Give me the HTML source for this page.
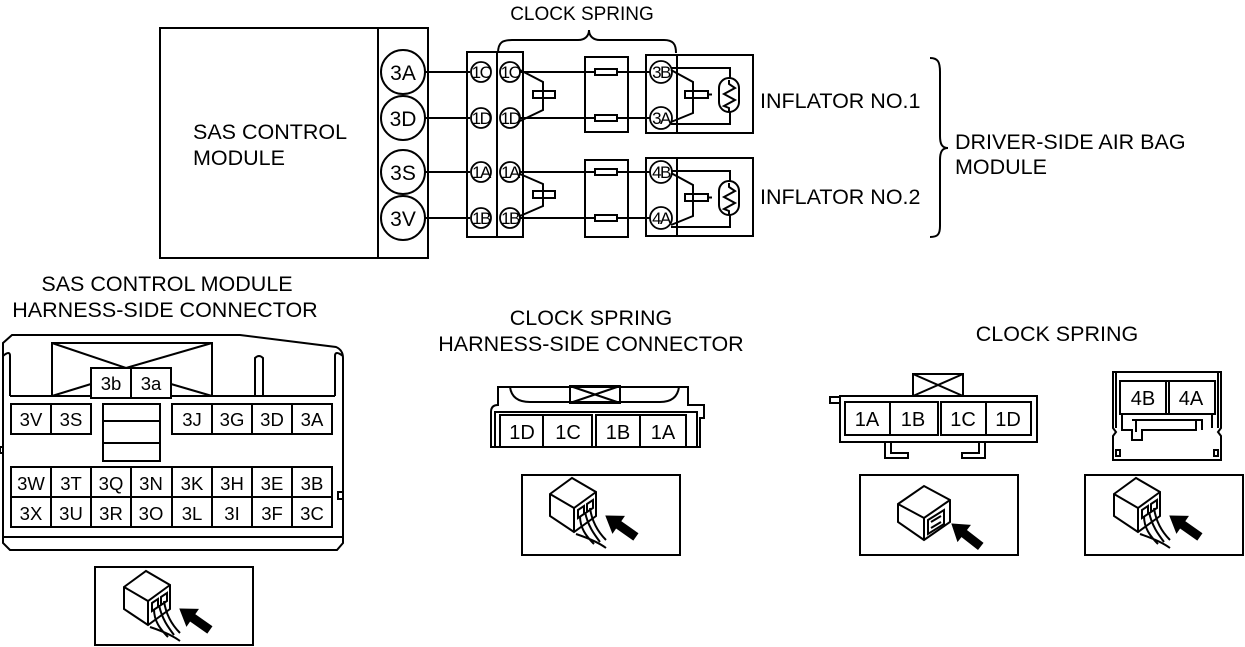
<!DOCTYPE html>
<html><head><meta charset="utf-8"><style>
html,body{margin:0;padding:0;background:#fff;}
svg{display:block;}
text{font-family:"Liberation Sans",Arial,sans-serif;fill:#000;}
</style></head><body>
<svg width="1245" height="647" viewBox="0 0 1245 647" xmlns="http://www.w3.org/2000/svg">
<defs>
<g id="arrow"><path d="M0,0 L15,-10 L15,-4 L36,-4 L36,4 L15,4 L15,10 Z" fill="#000" stroke="#000" stroke-width="1"/></g>
<g id="icon" fill="none" stroke="#000" stroke-width="2">
  <path d="M-38,-18 L-16,-34 L8,-20 L8,4 L-14,20 L-38,4 Z"/>
  <path d="M-38,-18 L-14,-4 L8,-20 M-14,-4 L-14,20" />
  <path d="M-10,-2 L-4,-6 L-4,2 L-10,6 Z M-1,-8 L5,-12 L5,-4 L-1,0 Z"/>
  <path d="M-8,4 C-8,16 -2,24 6,32 M-3,0 C0,14 6,22 12,30 M2,-4 C4,10 10,20 18,28 M-12,22 C0,26 10,30 18,36"/>
  <use href="#arrow" transform="translate(18,4) rotate(35)"/>
</g>
</defs>
<g fill="none" stroke="#000" stroke-width="2">
<rect x="160" y="28" width="218" height="230"/>
<rect x="378" y="28" width="50" height="230"/>
<circle cx="403" cy="72" r="22"/><circle cx="403" cy="118" r="22"/><circle cx="403" cy="172" r="22"/><circle cx="403" cy="218" r="22"/>
<path d="M425,72H470 M425,118H470 M425,172H470 M425,218H470"/>
<rect x="467" y="52" width="30" height="185"/><rect x="497" y="52" width="26" height="185"/>
<g stroke-width="1.8">
<circle cx="481" cy="72" r="10" fill="#fff"/><circle cx="481" cy="118" r="10" fill="#fff"/><circle cx="481" cy="172" r="10" fill="#fff"/><circle cx="481" cy="218" r="10" fill="#fff"/>
<circle cx="510" cy="72" r="10" fill="#fff"/><circle cx="510" cy="118" r="10" fill="#fff"/><circle cx="510" cy="172" r="10" fill="#fff"/><circle cx="510" cy="218" r="10" fill="#fff"/>
</g>
<path d="M520,70 L543,82 L543,110 L520,121 M533,91 H555 V98 H533 Z"/>
<path d="M520,174 L543,184 L543,206 L520,216 M533,191 H555 V198 H533 Z"/>
<path d="M520,72H650 M520,118H650 M520,172H650 M520,218H650"/>
<rect x="585" y="57" width="43" height="75"/><rect x="585" y="160" width="43" height="77"/>
<g fill="#fff"><rect x="595" y="69" width="22" height="6"/><rect x="595" y="115" width="22" height="6"/><rect x="595" y="169" width="22" height="6"/><rect x="595" y="215" width="22" height="6"/></g>
<rect x="646" y="55" width="31" height="78"/><rect x="677" y="55" width="76" height="78"/>
<rect x="646" y="158" width="31" height="78"/><rect x="677" y="158" width="76" height="78"/>
<g stroke-width="1.8">
<circle cx="661" cy="72" r="11" fill="#fff"/><circle cx="661" cy="118" r="11" fill="#fff"/>
<circle cx="661" cy="172" r="11" fill="#fff"/><circle cx="661" cy="218" r="11" fill="#fff"/>
</g>
<g id="inf">
<path d="M671,70 L693,82 L693,113 L671,122 M685,91 H708 V98 H685 Z M708,94.5 H712"/>
<path d="M671,68 H730 V78 M671,124 H730 V112"/>
<rect x="719" y="78" width="20" height="34" rx="10"/>
<path d="M729,80 L729,84 L735,88 L724,94 L735,100 L724,106 L729,108 V112"/>
</g>
<use href="#inf" transform="translate(0,103)"/>
<path d="M498,53 C498,42 503,40 512,40 H578 C585,40 589,36 589,30 C589,36 593,40 600,40 H664 C673,40 676,44 676,53"/>
<path d="M930,58 C938,58 940,62 940,72 V136 C940,144 942,148 948,148 C942,148 940,152 940,160 V226 C940,234 938,237 930,237"/>
</g>
<g font-size="19">
<text x="582" y="20" text-anchor="middle">CLOCK SPRING</text>
</g>
<g font-size="21.5">
<text x="193" y="139">SAS CONTROL</text>
<text x="193" y="165">MODULE</text>
<text x="760" y="108">INFLATOR NO.1</text>
<text x="760" y="204">INFLATOR NO.2</text>
<text x="955" y="149">DRIVER-SIDE AIR BAG</text>
<text x="955" y="174">MODULE</text>
</g>
<g font-size="21">
<text x="403" y="80" text-anchor="middle">3A</text><text x="403" y="126" text-anchor="middle">3D</text>
<text x="403" y="180" text-anchor="middle">3S</text><text x="403" y="226" text-anchor="middle">3V</text>
</g>
<g font-size="17" text-anchor="middle" letter-spacing="-1.5">
<text x="481" y="78">1C</text><text x="481" y="124">1D</text><text x="481" y="178">1A</text><text x="481" y="224">1B</text>
<text x="510" y="78">1C</text><text x="510" y="124">1D</text><text x="510" y="178">1A</text><text x="510" y="224">1B</text>
<text x="661" y="78">3B</text><text x="661" y="124">3A</text><text x="661" y="178">4B</text><text x="661" y="224">4A</text>
</g>

<g font-size="21.5" text-anchor="middle">
<text x="167" y="291">SAS CONTROL MODULE</text>
<text x="165" y="317">HARNESS-SIDE CONNECTOR</text>
<text x="591" y="325">CLOCK SPRING</text>
<text x="591" y="351">HARNESS-SIDE CONNECTOR</text>
<text x="1057" y="341">CLOCK SPRING</text>
</g>
<g fill="none" stroke="#000" stroke-width="2">
<path d="M12,335 H240 L336,347 Q343,350 343,358 V543 L337,550 H10 L3,543 V343 Z"/>
<path d="M3,537 H343"/>
<path d="M10,396 H335 M10,356 V396 M3,356 Q10,350 10,356 M335,356 V396 M343,356 Q335,350 335,356"/>
<path d="M255,396 V358 Q259,354 263,358 V396"/>
<rect x="52" y="343" width="160" height="53"/>
<path d="M52,343 L126,368 L212,343 M52,396 L91,384 M171,384 L212,396"/>
<rect x="91" y="368" width="40" height="30" fill="#fff"/><rect x="131" y="368" width="40" height="30" fill="#fff"/>
<rect x="11" y="404" width="80" height="30"/><path d="M51,404V434"/>
<rect x="103" y="404" width="57" height="57"/><path d="M103,421H160 M103,443H160"/>
<rect x="172" y="404" width="160" height="30"/><path d="M212,404V434 M252,404V434 M292,404V434"/>
<rect x="11" y="467" width="321" height="60"/><path d="M11,497H332"/>
<path d="M51,467V527 M91,467V527 M131,467V527 M172,467V527 M212,467V527 M252,467V527 M292,467V527"/>
<rect x="0" y="447" width="3" height="6"/><rect x="338" y="492" width="5" height="7"/>
<rect x="95" y="567" width="158" height="78"/>
</g>
<g font-size="18.5" text-anchor="middle">
<text x="111" y="390">3b</text><text x="151" y="390">3a</text>
<text x="31" y="426">3V</text><text x="71" y="426">3S</text>
<text x="192" y="426">3J</text><text x="232" y="426">3G</text><text x="272" y="426">3D</text><text x="312" y="426">3A</text>
<text x="31" y="490">3W</text><text x="71" y="490">3T</text><text x="111" y="490">3Q</text><text x="151" y="490">3N</text><text x="192" y="490">3K</text><text x="232" y="490">3H</text><text x="272" y="490">3E</text><text x="312" y="490">3B</text>
<text x="31" y="520">3X</text><text x="71" y="520">3U</text><text x="111" y="520">3R</text><text x="151" y="520">3O</text><text x="192" y="520">3L</text><text x="232" y="520">3I</text><text x="272" y="520">3F</text><text x="312" y="520">3C</text>
</g>
<use href="#icon" transform="translate(162,605)"/>

<g fill="none" stroke="#000" stroke-width="2">
<path d="M491,447 V412 Q491,405 498,405 V387 H688 V405 H704 V418 H700 V447 Z"/>
<path d="M495,447 V412 H697 V447"/>
<path d="M510,387 Q512,402 530,402 H660 Q677,402 679,387"/>
<rect x="570" y="386" width="50" height="17"/><path d="M570,386 L620,403 M620,386 L570,403"/>
<rect x="500" y="415" width="92" height="32"/><rect x="596" y="415" width="90" height="32"/>
<path d="M543,415V447 M640,415V447"/>
<rect x="522" y="475" width="158" height="80"/>
</g>
<g font-size="20" text-anchor="middle">
<text x="522" y="439">1D</text><text x="568" y="439">1C</text><text x="618" y="439">1B</text><text x="663" y="439">1A</text>
</g>
<use href="#icon" transform="translate(588,512)"/>

<g fill="none" stroke="#000" stroke-width="2">
<rect x="913" y="374" width="50" height="22"/><path d="M913,374 L963,396 M963,374 L913,396"/>
<rect x="840" y="396" width="197" height="46"/>
<path d="M840,397 H830 V403 H840"/>
<rect x="845" y="402" width="93" height="33"/><rect x="941" y="402" width="90" height="33"/>
<path d="M890,402V435 M986,402V435"/>
<path d="M885,442 V458 H908 V453 H891 V442 M985,442 V458 H962 V453 H979 V442"/>
<rect x="860" y="475" width="158" height="80"/>
</g>
<g font-size="20" text-anchor="middle">
<text x="867" y="426">1A</text><text x="913" y="426">1B</text><text x="963" y="426">1C</text><text x="1008" y="426">1D</text>
</g>
<g fill="none" stroke="#000" stroke-width="2" transform="translate(938,512)">
  <path d="M-40,-8 L-14,-26 L12,-12 L12,10 L-14,28 L-40,10 Z"/>
  <path d="M-40,-8 L-14,6 L12,-12 M-14,6 L-14,28"/>
  <path d="M-10,8 L6,-2 L6,12 L-10,22 Z M-7,10 L3,4 M-7,16 L3,10"/>
  <use href="#arrow" transform="translate(14,12) rotate(38)"/>
</g>

<g fill="none" stroke="#000" stroke-width="2">
<path d="M1113,372 H1221 V428 L1218,432 L1221,436 V460 H1113 V436 L1116,432 L1113,428 Z"/>
<path d="M1116,372 V428 M1218,372 V428"/>
<rect x="1120" y="381" width="95" height="33"/><path d="M1166,381V414 M1169,381V414"/>
<path d="M1122,414 V430 H1132 V440 H1142 V430 H1196 V420 M1212,414 V428 M1132,420 H1202 V430 M1136,420 V432"/>
<rect x="1116" y="450" width="4" height="6"/><rect x="1214" y="450" width="4" height="6"/>
<rect x="1085" y="475" width="158" height="80"/>
</g>
<g font-size="20" text-anchor="middle">
<text x="1143" y="405">4B</text><text x="1191" y="405">4A</text>
</g>
<use href="#icon" transform="translate(1152,512)"/>
</svg>
</body></html>
